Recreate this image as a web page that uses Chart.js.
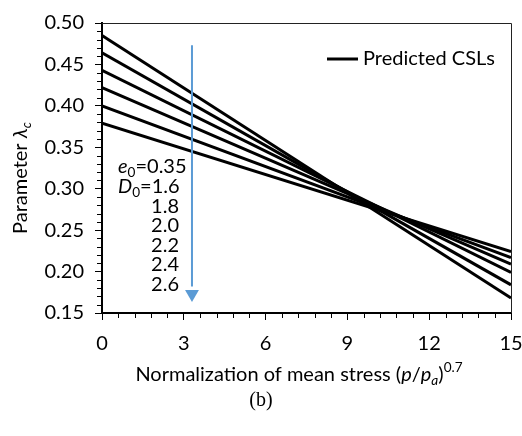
<!DOCTYPE html>
<html>
<head>
<meta charset="utf-8">
<script src="https://cdn.jsdelivr.net/npm/chart.js@4.4.0/dist/chart.umd.min.js"></script>
<style>
  html, body { margin: 0; padding: 0; background: #fff; }
  #wrap { width: 522px; height: 436px; }
</style>
</head>
<body>
<div id="wrap"><canvas id="chart"></canvas></div>
<script>
const black = '#000000';
const blue = '#5B9BD5';
const font = 'Lato';

// x values of the two ends of each predicted CSL
const xEnds = [0, 15];
// D0 of each line, with lambda_c at x = 0 and x = 15
const d0Values = ['1.6', '1.8', '2.0', '2.2', '2.4', '2.6'];
const lambdaStart = [0.485, 0.464, 0.443, 0.422, 0.400, 0.379];
const lambdaEnd = [0.168, 0.184, 0.199, 0.209, 0.217, 0.224];
const e0Value = '0.35';

// axis ranges and ticks
const xMin = 0, xMax = 15, xStep = 3, xMinor = 0.6;
const yMin = 0.15, yMax = 0.50, yStep = 0.05, yMinor = 0.01;

// the blue arrow
const arrowX = 3.3;
const arrowTop = 0.473;
const arrowBase = 0.182;
const arrowHead = 0.173;

const lineSets = d0Values.map((d, i) => ({
  label: 'Predicted CSLs',
  data: xEnds.map((x, j) => ({ x: x, y: j === 0 ? lambdaStart[i] : lambdaEnd[i] })),
  borderColor: black,
  backgroundColor: black,
  borderWidth: 3,
  pointRadius: 0,
  fill: false,
}));

const arrowSets = [
  {
    label: 'arrowHead',
    data: [{ x: arrowX, y: arrowHead }],
    showLine: false,
    pointStyle: 'triangle',
    rotation: 180,
    pointRadius: 8,
    pointBackgroundColor: blue,
    pointBorderWidth: 0,
  },
  {
    label: 'arrowShaft',
    data: [{ x: arrowX, y: arrowTop }, { x: arrowX, y: arrowBase }],
    borderColor: blue,
    borderWidth: 2,
    pointRadius: 0,
  },
];

// draws text made of runs (italic / sub / sup), middle at y
function drawRuns(ctx, runs, x, y, size, align) {
  const parts = runs.map(r => {
    const s = r.sub || r.sup ? size * 0.68 : size;
    const f = (r.italic ? 'italic ' : '') + s + 'px ' + font;
    ctx.font = f;
    return { t: r.t, f: f, w: ctx.measureText(r.t).width, dy: r.sub ? size * 0.28 : (r.sup ? -size * 0.38 : 0) };
  });
  const total = parts.reduce((a, p) => a + p.w, 0);
  let cx = align === 'center' ? x - total / 2 : (align === 'right' ? x - total : x);
  ctx.textBaseline = 'middle';
  ctx.textAlign = 'left';
  parts.forEach(p => {
    ctx.font = p.f;
    ctx.fillText(p.t, cx, y + p.dy);
    cx += p.w;
  });
}

const extras = {
  id: 'extras',
  afterDraw(chart) {
    const ctx = chart.ctx;
    const area = chart.chartArea;
    const xs = chart.scales.x, ys = chart.scales.y;
    ctx.save();

    // thin frame on top and right
    ctx.strokeStyle = '#222';
    ctx.lineWidth = 1;
    ctx.beginPath();
    ctx.moveTo(area.left, area.top + 0.5);
    ctx.lineTo(area.right + 0.5, area.top + 0.5);
    ctx.lineTo(area.right + 0.5, area.bottom);
    ctx.stroke();

    // minor ticks
    ctx.strokeStyle = black;
    ctx.beginPath();
    for (let v = yMin; v < yMax + 1e-9; v += yMinor) {
      if (Math.abs(v / yStep - Math.round(v / yStep)) < 1e-6) continue;
      const py = Math.round(ys.getPixelForValue(v)) + 0.5;
      ctx.moveTo(area.left - 5, py);
      ctx.lineTo(area.left, py);
    }
    for (let v = xMin; v < xMax + 1e-9; v += xMinor) {
      if (Math.abs(v / xStep - Math.round(v / xStep)) < 1e-6) continue;
      const px = Math.round(xs.getPixelForValue(v)) + 0.5;
      ctx.moveTo(px, area.bottom);
      ctx.lineTo(px, area.bottom + 5);
    }
    ctx.stroke();

    ctx.fillStyle = black;

    // legend
    const ly = area.top + 36;
    const lx = area.right - 184;
    ctx.lineWidth = 3;
    ctx.beginPath();
    ctx.moveTo(lx, ly);
    ctx.lineTo(lx + 31, ly);
    ctx.stroke();
    drawRuns(ctx, [{ t: 'Predicted CSLs' }], lx + 36, ly, 20, 'left');

    // e0 / D0 annotation
    const ax = area.left + 16;
    const ay = area.top + 144;
    const rowH = 19.6;
    drawRuns(ctx, [{ t: 'e', italic: true }, { t: '0', sub: true }, { t: '=' + e0Value }], ax, ay, 20, 'left');
    drawRuns(ctx, [{ t: 'D', italic: true }, { t: '0', sub: true }, { t: '=' + d0Values[0] }], ax, ay + rowH, 20, 'left');
    for (let i = 1; i < d0Values.length; i++) {
      drawRuns(ctx, [{ t: d0Values[i] }], area.left + 77, ay + rowH * (i + 1), 20, 'right');
    }

    // axis titles
    drawRuns(ctx, [
      { t: 'Normalization of mean stress (' },
      { t: 'p', italic: true }, { t: '/' },
      { t: 'p', italic: true }, { t: 'a', italic: true, sub: true },
      { t: ')' }, { t: '0.7', sup: true },
    ], 299, area.bottom + 62, 20, 'center');

    ctx.save();
    ctx.translate(21, 178);
    ctx.rotate(-Math.PI / 2);
    drawRuns(ctx, [{ t: 'Parameter ' }, { t: 'λ', italic: true }, { t: 'c', italic: true, sub: true }], 0, 0, 20, 'center');
    ctx.restore();

    // panel label
    ctx.font = '20px "Liberation Serif"';
    ctx.textAlign = 'center';
    ctx.textBaseline = 'middle';
    ctx.fillText('(b)', 261, 401);

    ctx.restore();
  },
};

new Chart(document.getElementById('chart'), {
  type: 'line',
  data: { datasets: arrowSets.concat(lineSets) },
  options: {
    responsive: true,
    maintainAspectRatio: false,
    animation: false,
    layout: { padding: { left: 0, top: 19, right: 11, bottom: 0 } },
    plugins: {
      legend: { display: false },
      tooltip: { enabled: false },
    },
    scales: {
      x: {
        type: 'linear',
        min: xMin,
        max: xMax,
        ticks: {
          stepSize: xStep,
          padding: 12,
          color: black,
          font: { family: font, size: 20 },
        },
        grid: { drawOnChartArea: false, tickLength: 7, color: black, tickWidth: 1 },
        border: { color: black, width: 2 },
        afterFit: (s) => { s.height = 123; s.paddingLeft = 0; s.paddingRight = 0; },
      },
      y: {
        min: yMin,
        max: yMax,
        ticks: {
          stepSize: yStep,
          padding: 11,
          color: black,
          font: { family: font, size: 20 },
          callback: (v) => v.toFixed(2),
        },
        grid: { drawOnChartArea: false, tickLength: 7, color: black, tickWidth: 1 },
        border: { color: black, width: 2 },
        afterFit: (s) => { s.width = 102; },
      },
    },
  },
  plugins: [extras],
});
</script>
</body>
</html>
